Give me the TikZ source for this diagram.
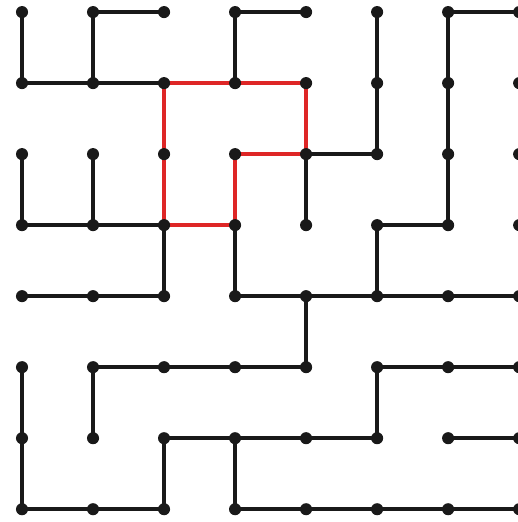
\documentclass[tikz,border=0pt]{standalone}
\begin{document}
\definecolor{pathred}{RGB}{222,38,38}
\begin{tikzpicture}[line width=1.4pt, line cap=round, line join=round,
    wall/.style={draw=black!90},
    loop/.style={draw=pathred, line width=1.6pt},
    dot/.style={circle, fill=black!90, inner sep=0pt, minimum size=0.17cm}]
    \useasboundingbox (-0.31,0.17) rectangle (6.97,-7.18);

    % Grid points
    \foreach \i in {0,...,7}
        \foreach \j in {0,...,7}
            \coordinate (p-\i-\j) at (\i,-\j);

    % Horizontal segments
    \foreach \a/\b in {1-0/2-0, 3-0/4-0, 6-0/7-0,
                       0-1/1-1, 1-1/2-1,
                       4-2/5-2,
                       0-3/1-3, 1-3/2-3, 5-3/6-3,
                       0-4/1-4, 1-4/2-4, 3-4/4-4, 4-4/5-4, 5-4/6-4, 6-4/7-4,
                       1-5/2-5, 2-5/3-5, 3-5/4-5, 5-5/6-5, 6-5/7-5,
                       2-6/3-6, 3-6/4-6, 4-6/5-6, 6-6/7-6,
                       0-7/1-7, 1-7/2-7, 3-7/4-7, 4-7/5-7, 5-7/6-7, 6-7/7-7}
        \draw[wall] (p-\a) -- (p-\b);

    % Vertical segments
    \foreach \a/\b in {0-0/0-1, 1-0/1-1, 3-0/3-1, 5-0/5-1, 6-0/6-1,
                       5-1/5-2, 6-1/6-2,
                       0-2/0-3, 1-2/1-3, 4-2/4-3, 6-2/6-3,
                       2-3/2-4, 3-3/3-4, 5-3/5-4,
                       4-4/4-5,
                       0-5/0-6, 1-5/1-6, 5-5/5-6,
                       0-6/0-7, 2-6/2-7, 3-6/3-7}
        \draw[wall] (p-\a) -- (p-\b);

    % Red loop
    \draw[loop] (p-2-1) -- (p-3-1) -- (p-4-1) -- (p-4-2) -- (p-3-2)
        -- (p-3-3) -- (p-2-3) -- (p-2-2) -- cycle;

    % Dots
    \foreach \i in {0,...,7}
        \foreach \j in {0,...,7}
            \node[dot] (d-\i-\j) at (p-\i-\j) {};
\end{tikzpicture}
\end{document}
